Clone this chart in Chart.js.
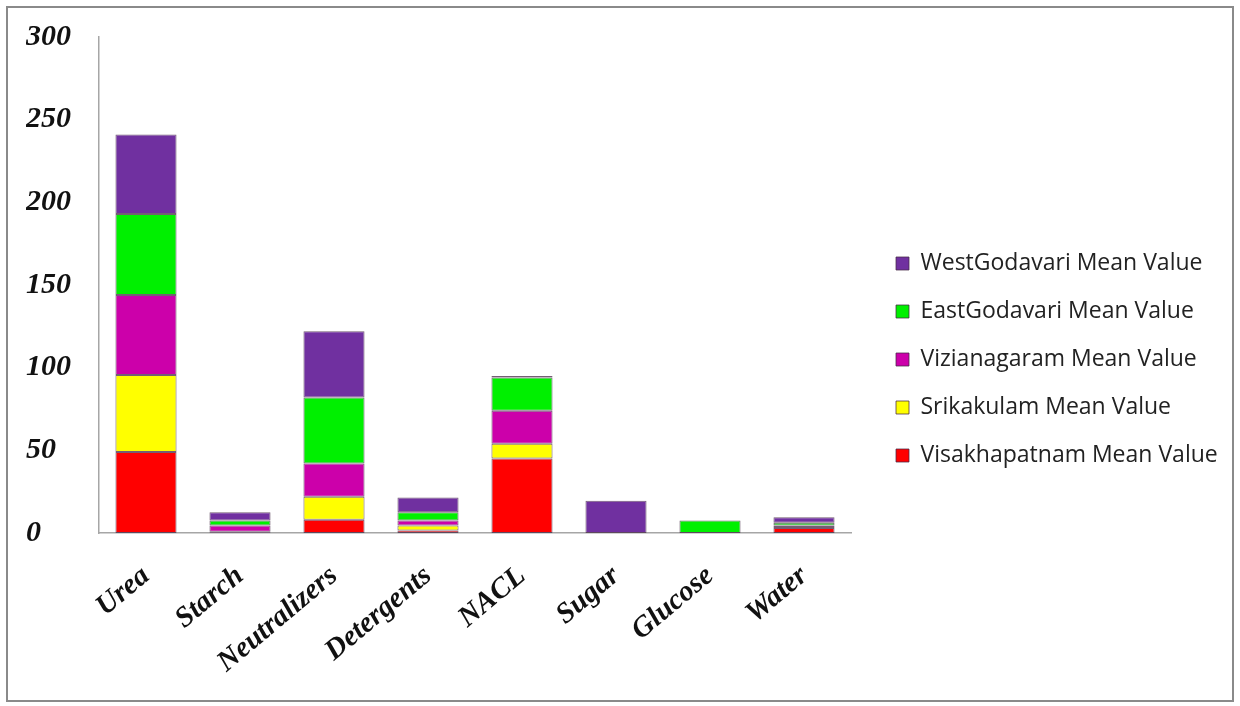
<!DOCTYPE html>
<html>
<head>
<meta charset="utf-8">
<script src="https://cdn.jsdelivr.net/npm/chart.js@4.4.1/dist/chart.umd.min.js"></script>
<style>
  html, body { margin: 0; padding: 0; background: #ffffff; }
  #wrap { width: 1240px; height: 706px; }
</style>
</head>
<body>
<div id="wrap"><canvas id="chart" width="1240" height="706"></canvas></div>
<script>
// Adulterant categories along the x axis
const categories = ['Urea', 'Starch', 'Neutralizers', 'Detergents', 'NACL', 'Sugar', 'Glucose', 'Water'];

// Mean values per district (stacked bottom to top)
const visakhapatnam = [49, 0.5, 8, 1.5, 45, null, null, 3];
const srikakulam    = [46.5, 0.3, 14, 3, 9, null, null, 1.2];
const vizianagaram  = [48.5, 3.7, 20, 3, 20, null, null, 0.3];
const eastGodavari  = [49, 3, 40, 5, 20, null, 7.5, 1.7];
const westGodavari  = [48, 5, 40, 9, 1, 19.5, null, 3.3];

// Value axis ticks
const yTicks = [0, 50, 100, 150, 200, 250, 300];

const seriesNames = [
  'Visakhapatnam Mean Value',
  'Srikakulam Mean Value',
  'Vizianagaram Mean Value',
  'EastGodavari Mean Value',
  'WestGodavari Mean Value'
];
const seriesColors = ['#ff0000', '#ffff00', '#cc00aa', '#00f000', '#7030a0'];
const seriesData = [visakhapatnam, srikakulam, vizianagaram, eastGodavari, westGodavari];

const datasets = seriesData.map((d, i) => ({
  label: seriesNames[i],
  data: d,
  backgroundColor: seriesColors[i],
  borderColor: 'rgba(70,40,70,0.75)',
  borderWidth: 1,
  borderSkipped: false,
  barPercentage: 0.65,
  categoryPercentage: 1.0
}));

// Grey frame around the whole figure
const framePlugin = {
  id: 'frame',
  beforeDraw(chart) {
    const ctx = chart.ctx;
    ctx.save();
    ctx.fillStyle = '#ffffff';
    ctx.fillRect(0, 0, chart.width, chart.height);
    ctx.strokeStyle = '#8a8a8a';
    ctx.lineWidth = 2;
    ctx.strokeRect(7, 7, 1226, 694);
    ctx.restore();
  }
};

// Fixed legend width so the items sit at a set offset
const legendWidthPlugin = {
  id: 'legendWidth',
  beforeLayout(chart) {
    const lg = chart.legend;
    if (lg && !lg._fixedFit) {
      const orig = lg.fit.bind(lg);
      lg.fit = function () { orig(); this.width = 361; };
      lg._fixedFit = true;
    }
  }
};

new Chart(document.getElementById('chart'), {
  type: 'bar',
  data: { labels: categories, datasets },
  plugins: [framePlugin, legendWidthPlugin],
  options: {
    responsive: false,
    animation: false,
    layout: { padding: { left: 26, right: 8, top: 37, bottom: 24 } },
    plugins: {
      tooltip: { enabled: false },
      legend: {
        position: 'right',
        reverse: true,
        labels: {
          boxWidth: 13,
          boxHeight: 13,
          padding: 25,
          color: '#222222',
          font: { family: 'Open Sans', size: 23 }
        }
      }
    },
    scales: {
      x: {
        stacked: true,
        grid: { display: false },
        border: { display: true, color: '#a6a6a6', width: 1.5 },
        ticks: {
          autoSkip: false,
          minRotation: 40,
          maxRotation: 40,
          color: '#111111',
          padding: 18,
          font: { family: 'Liberation Serif', size: 29, style: 'italic', weight: 'bold' }
        },
        afterFit(s) { s.height = 149; }
      },
      y: {
        stacked: true,
        min: 0,
        max: 300,
        grid: { display: false },
        border: { display: true, color: '#a6a6a6', width: 1.5 },
        afterBuildTicks(s) { s.ticks = yTicks.map(v => ({ value: v })); },
        ticks: {
          crossAlign: 'far',
          color: '#111111',
          font: { family: 'Liberation Serif', size: 30, style: 'italic', weight: 'bold' }
        },
        afterFit(s) { s.width = 73; }
      },
      gap: {
        type: 'linear',
        position: 'right',
        display: true,
        grid: { display: false },
        border: { display: false },
        ticks: { display: false },
        afterFit(s) { s.width = 20; }
      }
    }
  }
});
</script>
</body>
</html>
